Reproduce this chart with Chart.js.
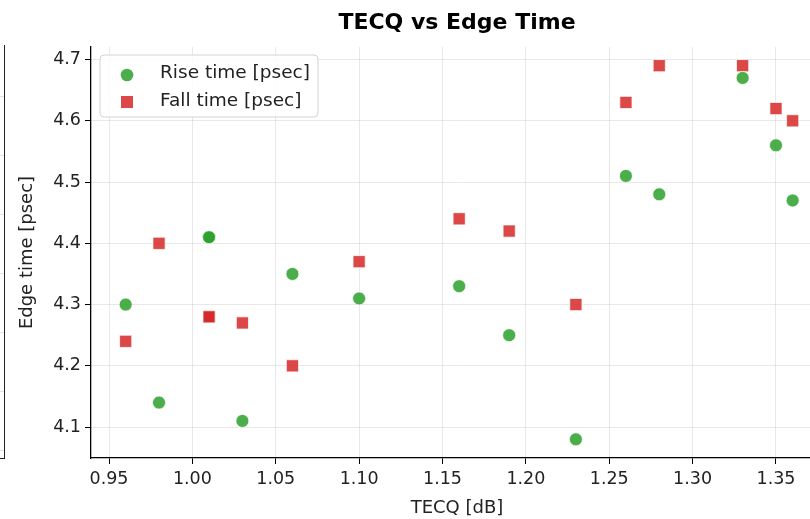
<!DOCTYPE html>
<html>
<head>
<meta charset="utf-8">
<script src="https://cdn.jsdelivr.net/npm/chart.js@4/dist/chart.umd.min.js"></script>
<style>
  html, body { margin: 0; padding: 0; background: #fff; overflow: hidden; }
  #wrap { position: relative; width: 914px; height: 519px; }
  /* edge of the neighbouring subplot that shows at the left of the crop */
  #edge {
    position: absolute; left: 0; top: 45px; width: 4px; height: 413px;
    border-right: 1.3px solid #222; border-bottom: 1.3px solid #222;
    background: repeating-linear-gradient(to bottom, transparent 0, transparent 51px, #e2e2e2 51px, #e2e2e2 52px, transparent 52px, transparent 59px);
  }
</style>
</head>
<body>
<div id="wrap">
  <canvas id="grafico" width="914" height="519"></canvas>
  <div id="edge"></div>
</div>
<script>
// valores
const tecq = [0.96, 0.98, 1.01, 1.01, 1.03, 1.06, 1.10, 1.16, 1.19, 1.23, 1.26, 1.28, 1.33, 1.35, 1.36];
const riseTime = [4.30, 4.14, 4.41, 4.41, 4.11, 4.35, 4.31, 4.33, 4.25, 4.08, 4.51, 4.48, 4.67, 4.56, 4.47];
const fallTime = [4.24, 4.40, 4.28, 4.28, 4.27, 4.20, 4.37, 4.44, 4.42, 4.30, 4.63, 4.69, 4.69, 4.62, 4.60];
const xTicks = [0.95, 1.00, 1.05, 1.10, 1.15, 1.20, 1.25, 1.30, 1.35];
const yTicks = [4.1, 4.2, 4.3, 4.4, 4.5, 4.6, 4.7];

const FONT = "'DejaVu Sans', sans-serif";

// Leyenda dentro del area del grafico, estilo matplotlib
const legendInside = {
  id: "legendInside",
  afterDraw(chart) {
    const ctx = chart.ctx;
    const area = chart.chartArea;
    const x = area.left + 9, y = area.top + 8, w = 218, h = 62;
    ctx.save();
    ctx.beginPath();
    ctx.roundRect(x, y, w, h, 4);
    ctx.fillStyle = "rgba(255,255,255,0.85)";
    ctx.fill();
    ctx.strokeStyle = "#d3d3d3";
    ctx.lineWidth = 1;
    ctx.stroke();
    ctx.font = "18.5px " + FONT;
    ctx.textBaseline = "middle";
    chart.data.datasets.forEach((ds, i) => {
      const cy = y + 18 + i * 28;
      const mx = x + 27;
      ctx.fillStyle = ds.backgroundColor;
      ctx.beginPath();
      if (ds.pointStyle === "rect") {
        ctx.rect(mx - 6, cy + 1 - 6, 12, 12);
      } else {
        ctx.arc(mx, cy + 2, 6.3, 0, Math.PI * 2);
      }
      ctx.fill();
      ctx.fillStyle = "#222";
      ctx.fillText(ds.label, x + 60, cy);
    });
    ctx.restore();
  },
};

function grafico() {
  const ctx = document.getElementById("grafico").getContext("2d");

  new Chart(ctx, {
    type: "scatter",
    data: {
      datasets: [
        {
          label: "Rise time [psec]",
          data: tecq.map((t, i) => ({ x: t, y: riseTime[i] })),
          backgroundColor: "rgba(44,160,44,0.85)",
          borderColor: "rgba(255,255,255,0.9)",
          borderWidth: 0.8,
          pointStyle: "circle",
          pointRadius: 6.5,
        },
        {
          label: "Fall time [psec]",
          data: tecq.map((t, i) => ({ x: t, y: fallTime[i] })),
          backgroundColor: "rgba(214,39,40,0.85)",
          borderColor: "rgba(255,255,255,0.9)",
          borderWidth: 0.8,
          pointStyle: "rect",
          pointRadius: 8.6,
        },
      ],
    },
    options: {
      responsive: false,
      animation: false,
      events: [],
      layout: { padding: { left: 0, right: 91, top: 0, bottom: 0 } },
      plugins: {
        legend: { display: false },
        tooltip: { enabled: false },
        title: {
          display: true,
          fullSize: false,
          text: "TECQ vs Edge Time",
          color: "#000",
          font: { family: FONT, size: 22, weight: "bold", lineHeight: 1.2 },
          padding: { top: 10.5, bottom: 10.1 },
        },
      },
      scales: {
        x: {
          type: "linear",
          min: 0.9392,
          max: 1.3782,
          afterFit: (s) => { s.height = 61; },
          afterBuildTicks: (s) => { s.ticks = xTicks.map((v) => ({ value: v })); },
          border: { display: true, color: "#000", width: 1.3 },
          grid: { color: "rgba(0,0,0,0.09)", tickColor: "#000", tickLength: 6 },
          ticks: {
            color: "#222",
            padding: 5,
            maxRotation: 0,
            font: { family: FONT, size: 17.5 },
            callback: (v) => v.toFixed(2),
          },
          title: {
            display: true,
            text: "TECQ [dB]",
            color: "#222",
            font: { family: FONT, size: 18 },
            padding: { top: 0, bottom: 0 },
          },
        },
        y: {
          type: "linear",
          min: 4.0495,
          max: 4.7205,
          afterFit: (s) => { s.width = 91; },
          afterBuildTicks: (s) => { s.ticks = yTicks.map((v) => ({ value: v })); },
          border: { display: true, color: "#000", width: 1.3 },
          grid: { color: "rgba(0,0,0,0.09)", tickColor: "#000", tickLength: 6 },
          ticks: {
            color: "#222",
            padding: 4,
            font: { family: FONT, size: 17.5 },
            callback: (v) => v.toFixed(1),
          },
          title: {
            display: true,
            text: "Edge time [psec]",
            color: "#222",
            font: { family: FONT, size: 18 },
            padding: { top: 17, bottom: 0 },
          },
        },
      },
    },
    plugins: [legendInside],
  });
}

grafico();
</script>
</body>
</html>
